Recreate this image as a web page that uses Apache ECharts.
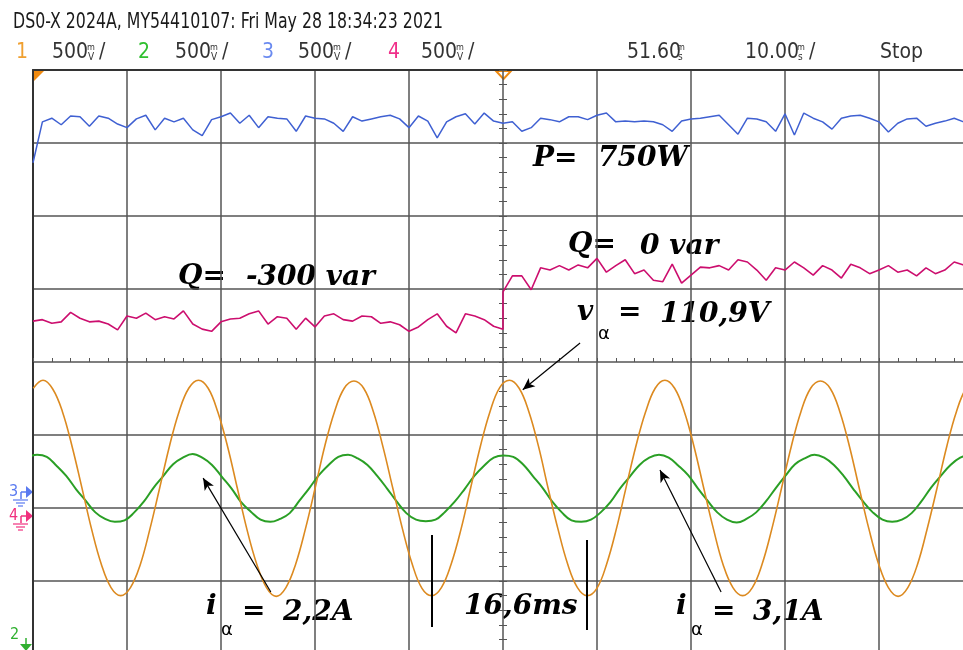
<!DOCTYPE html>
<html>
<head>
<meta charset="utf-8">
<script src="https://cdn.jsdelivr.net/npm/echarts@6/dist/echarts.min.js"></script>
<style>
  html, body { margin: 0; padding: 0; background: #fff; overflow: hidden; }
  /* the scope screen runs a little past the photo's right and bottom edge */
  #scope { width: 973px; height: 654px; }
</style>
</head>
<body>
<div id="scope"></div>
<script>
// time in ms relative to screen centre, amplitude in divisions from centre line
// ch3 (blue, P) and ch4 (magenta, Q) sampled every 1 ms from -50 ms
const blueP = [
  2.73, 3.29, 3.34, 3.25, 3.37, 3.36, 3.23, 3.37, 3.34, 3.26,
  3.21, 3.33, 3.38, 3.18, 3.34, 3.29, 3.34, 3.18, 3.10, 3.32,
  3.36, 3.41, 3.27, 3.38, 3.21, 3.36, 3.34, 3.33, 3.16, 3.37,
  3.34, 3.33, 3.27, 3.16, 3.36, 3.30, 3.33, 3.36, 3.38, 3.33,
  3.21, 3.37, 3.30, 3.07, 3.29, 3.36, 3.40, 3.26, 3.41, 3.30,
  3.27, 3.29, 3.16, 3.21, 3.34, 3.32, 3.29, 3.36, 3.36, 3.32,
  3.38, 3.41, 3.29, 3.30, 3.29, 3.30, 3.29, 3.25, 3.16, 3.30,
  3.33, 3.34, 3.36, 3.38, 3.25, 3.12, 3.34, 3.33, 3.29, 3.16,
  3.40, 3.11, 3.41, 3.34, 3.29, 3.19, 3.34, 3.37, 3.38, 3.34,
  3.29, 3.15, 3.27, 3.33, 3.34, 3.23, 3.27, 3.30, 3.34, 3.29, 3.31
];
// Q before the step (-50 .. 0 ms) and after it (0 .. 49 ms)
const pinkQBefore = [
  0.56, 0.58, 0.53, 0.55, 0.68, 0.60, 0.55, 0.56, 0.52, 0.44,
  0.63, 0.60, 0.67, 0.58, 0.62, 0.59, 0.70, 0.52, 0.45, 0.42,
  0.55, 0.59, 0.60, 0.66, 0.70, 0.52, 0.62, 0.60, 0.45, 0.60,
  0.48, 0.63, 0.66, 0.58, 0.56, 0.63, 0.62, 0.53, 0.55, 0.51,
  0.42, 0.48, 0.58, 0.66, 0.49, 0.40, 0.66, 0.63, 0.58, 0.49,
  0.45
];
const pinkQAfter = [
  0.96, 1.18, 1.18, 0.99, 1.29, 1.26, 1.32, 1.26, 1.33, 1.29,
  1.42, 1.23, 1.32, 1.40, 1.21, 1.26, 1.12, 1.10, 1.34, 1.08,
  1.19, 1.30, 1.29, 1.32, 1.26, 1.40, 1.37, 1.26, 1.12, 1.29,
  1.26, 1.37, 1.29, 1.19, 1.32, 1.26, 1.15, 1.34, 1.29, 1.21,
  1.26, 1.32, 1.23, 1.26, 1.18, 1.29, 1.21, 1.26, 1.37, 1.33
];
// ch1 voltage (orange), 16 samples per 16.54 ms period, first sample at -49.97 ms
const orangeV = [
  -0.36, -0.25, -0.37, -0.68, -1.16, -1.72, -2.29, -2.77, -3.09, -3.20, -3.09, -2.78, -2.29, -1.73, -1.16, -0.68,
  -0.36, -0.25, -0.36, -0.69, -1.16, -1.73, -2.30, -2.77, -3.09, -3.21, -3.09, -2.77, -2.29, -1.73, -1.15, -0.68,
  -0.36, -0.26, -0.36, -0.68, -1.17, -1.73, -2.29, -2.77, -3.10, -3.20, -3.09, -2.77, -2.30, -1.73, -1.16, -0.68,
  -0.35, -0.25, -0.36, -0.68, -1.16, -1.74, -2.29, -2.77, -3.09, -3.20, -3.10, -2.77, -2.29, -1.72, -1.16, -0.69,
  -0.36, -0.25, -0.36, -0.68, -1.16, -1.73, -2.29, -2.78, -3.09, -3.20, -3.09, -2.77, -2.29, -1.73, -1.16, -0.68,
  -0.36, -0.26, -0.36, -0.68, -1.16, -1.73, -2.29, -2.77, -3.09, -3.21, -3.09, -2.77, -2.28, -1.73, -1.16, -0.68,
  -0.36, -0.25
];
// ch2 current (green), same sample spacing, first sample at -50.60 ms
const greenI = [
  -1.31, -1.27, -1.30, -1.42, -1.56, -1.74, -1.90, -2.06, -2.15, -2.19, -2.17, -2.06, -1.91, -1.72, -1.56, -1.40,
  -1.31, -1.26, -1.31, -1.41, -1.57, -1.73, -1.92, -2.05, -2.16, -2.19, -2.15, -2.07, -1.90, -1.73, -1.55, -1.41,
  -1.30, -1.27, -1.32, -1.41, -1.56, -1.73, -1.91, -2.07, -2.16, -2.18, -2.16, -2.05, -1.91, -1.74, -1.56, -1.42,
  -1.31, -1.28, -1.30, -1.40, -1.56, -1.72, -1.91, -2.06, -2.17, -2.19, -2.16, -2.06, -1.92, -1.73, -1.57, -1.41,
  -1.31, -1.27, -1.31, -1.42, -1.55, -1.73, -1.90, -2.06, -2.16, -2.20, -2.15, -2.06, -1.91, -1.73, -1.56, -1.40,
  -1.32, -1.27, -1.31, -1.41, -1.56, -1.74, -1.91, -2.06, -2.16, -2.19, -2.16, -2.07, -1.91, -1.72, -1.56, -1.41,
  -1.31, -1.27, -1.30
];
// arrows and cursor marks: [fromTime, fromDiv, toTime, toDiv]
const arrows = [
  [8.2, 0.26, 2.1, -0.38],
  [-24.7, -3.15, -31.9, -1.59],
  [23.2, -3.15, 16.7, -1.48]
];
const cursors = [
  [-7.55, -2.37, -7.55, -3.63],
  [8.94, -2.44, 8.94, -3.67]
];

const sampleTimes = (start, step, n) => Array.from({ length: n }, (_, i) => +(start + i * step).toFixed(3));
const pairs = (ts, vs) => vs.map((v, i) => [ts[i], v]);

const sinStep = 16.54 / 16;
const blueData = pairs(sampleTimes(-50, 1, blueP.length), blueP);
const pinkData = pairs(sampleTimes(-50, 1, pinkQBefore.length), pinkQBefore)
  .concat(pairs(sampleTimes(0, 1, pinkQAfter.length), pinkQAfter));
const orangeData = pairs(sampleTimes(-49.97, sinStep, orangeV.length), orangeV);
const greenData = pairs(sampleTimes(-50.60, sinStep, greenI.length), greenI);

const chart = echarts.init(document.getElementById('scope'));

const gridColor = '#555';
const scopeFont = "'DejaVu Sans Condensed', 'Liberation Sans', sans-serif";
const mathFont = "'DejaVu Serif', serif";

function txt(text, x, y, font, fill, sx) {
  return { type: 'text', x: x, y: y, scaleX: sx || 1, silent: true,
    style: { text: text, font: font, fill: fill || '#000', align: 'left', verticalAlign: 'middle' } };
}
function seg(x1, y1, x2, y2, color, w) {
  return { type: 'line', silent: true, shape: { x1: x1, y1: y1, x2: x2, y2: y2 },
    style: { stroke: color, lineWidth: w || 1.2 } };
}
function tri(points, color) {
  return { type: 'polygon', silent: true, shape: { points: points }, style: { fill: color } };
}
// tiny stacked unit like the scope's mV / ms glyph
function unit(x, top, bottom) {
  return [txt(top, x, 48, '9px ' + scopeFont, '#333'), txt(bottom, x + 1, 57, '10px ' + scopeFont, '#333')];
}
function groundMark(label, y, color) {
  return [
    txt(label, 9, y, '16px ' + scopeFont, color),
    seg(21, y, 27, y, color, 1.5),
    tri([[26, y - 6], [33, y], [26, y + 6]], color),
    seg(21, y, 21, y + 7, color, 1.5),
    seg(13, y + 8, 28, y + 8, color, 1.2),
    seg(16, y + 11, 25, y + 11, color, 1.2),
    seg(18, y + 14, 23, y + 14, color, 1.2)
  ];
}

const hdr = '21px ' + scopeFont;
const big = 'italic bold 28px ' + mathFont;
const alpha = '18px DejaVu Sans';

const graphics = [
  txt('DS0-X 2024A, MY54410107: Fri May 28 18:34:23 2021', 13, 23, hdr, '#1a1a1a', 0.835),
  txt('1', 16, 53, hdr, '#f0a030'),
  txt('500', 52, 53, hdr, '#333'), ...unit(87, 'm', 'V'), txt('/', 99, 53, hdr, '#333'),
  txt('2', 138, 53, hdr, '#30c030'),
  txt('500', 175, 53, hdr, '#333'), ...unit(210, 'm', 'V'), txt('/', 222, 53, hdr, '#333'),
  txt('3', 262, 53, hdr, '#6a8af0'),
  txt('500', 298, 53, hdr, '#333'), ...unit(333, 'm', 'V'), txt('/', 345, 53, hdr, '#333'),
  txt('4', 388, 53, hdr, '#f0308a'),
  txt('500', 421, 53, hdr, '#333'), ...unit(456, 'm', 'V'), txt('/', 468, 53, hdr, '#333'),
  txt('51.60', 627, 53, hdr, '#333'), ...unit(677, 'm', 's'),
  txt('10.00', 745, 53, hdr, '#333'), ...unit(797, 'm', 's'), txt('/', 809, 53, hdr, '#333'),
  txt('Stop', 880, 53, hdr, '#333'),

  tri([[34, 71], [44, 71], [34, 81]], '#f08a10'),
  { type: 'polygon', silent: true, shape: { points: [[496, 71], [511, 71], [503.5, 79]] },
    style: { fill: 'none', stroke: '#f08a10', lineWidth: 2 } },

  ...groundMark('3', 492, '#5a7af0'),
  ...groundMark('4', 516, '#f0307e'),
  txt('2', 10, 635, '16px ' + scopeFont, '#30b030'),
  seg(26, 638, 26, 645, '#30b030', 1.5),
  tri([[20, 644], [32, 644], [26, 651]], '#30b030'),

  txt('P=', 533, 159, big), txt('750W', 598, 159, big),
  txt('Q=', 568, 245, big), txt('0 var', 640, 247, big),
  txt('Q=', 178, 277, big), txt('-300 var', 246, 278, big),
  txt('v', 577, 313, big), txt('α', 598, 334, alpha), txt('=', 618, 313, big), txt('110,9V', 660, 315, big),
  txt('i', 206, 607, big), txt('α', 221, 630, alpha), txt('=', 242, 612, big), txt('2,2A', 283, 613, big),
  txt('16,6ms', 464, 607, big),
  txt('i', 676, 607, big), txt('α', 691, 630, alpha), txt('=', 712, 612, big), txt('3,1A', 753, 613, big)
];

const tickAxisX = inside => ({
  type: 'value', min: -50, max: 50, interval: 10,
  axisLine: { show: false, onZero: true, onZeroAxisIndex: 0 },
  axisTick: { show: true, inside: inside, length: 4, lineStyle: { color: gridColor } },
  minorTick: { show: true, splitNumber: 5, length: 4, lineStyle: { color: gridColor } },
  axisLabel: { show: false }, splitLine: { show: false }
});
const tickAxisY = inside => ({
  type: 'value', min: -4, max: 4, interval: 1,
  axisLine: { show: false, onZero: true, onZeroAxisIndex: 0 },
  axisTick: { show: true, inside: inside, length: 4, lineStyle: { color: gridColor } },
  minorTick: { show: true, splitNumber: 5, length: 4, lineStyle: { color: gridColor } },
  axisLabel: { show: false }, splitLine: { show: false }
});

const trace = (name, data, color, width, smooth, extra) => Object.assign({
  name: name, type: 'line', data: data, xAxisIndex: 0, yAxisIndex: 0,
  showSymbol: false, smooth: smooth, clip: true, silent: true,
  lineStyle: { color: color, width: width }
}, extra || {});

const option = {
  animation: false,
  backgroundColor: '#fff',
  grid: { left: 33, top: 70, right: 0, bottom: 0 },
  xAxis: [
    {
      type: 'value', min: -50, max: 50, interval: 10, position: 'top',
      axisLine: { show: true, onZero: false, lineStyle: { color: '#333', width: 2 } },
      axisTick: { show: false }, axisLabel: { show: false },
      splitLine: { show: true, lineStyle: { color: gridColor, width: 1.5 } }
    },
    tickAxisX(true), tickAxisX(false)
  ],
  yAxis: [
    {
      type: 'value', min: -4, max: 4, interval: 1, position: 'left',
      axisLine: { show: true, onZero: false, lineStyle: { color: '#333', width: 2 } },
      axisTick: { show: false }, axisLabel: { show: false },
      splitLine: { show: true, lineStyle: { color: gridColor, width: 1.5 } }
    },
    tickAxisY(true), tickAxisY(false)
  ],
  series: [
    trace('P', blueData, '#3f60d2', 1.5, false),
    trace('Q', pinkData, '#cc0e6e', 1.6, false),
    trace('i', greenData, '#2a9f25', 2, 0.4),
    trace('v', orangeData, '#dc8a20', 1.6, 0.4, {
      markLine: {
        silent: true, animation: false,
        label: { show: false },
        symbol: ['none', 'none'],
        data: arrows.map(a => [
          { coord: [a[0], a[1]], symbol: 'none', lineStyle: { color: '#000', width: 1.2, type: 'solid' } },
          { coord: [a[2], a[3]], symbol: 'arrow', symbolSize: [8, 12] }
        ]).concat(cursors.map(c => [
          { coord: [c[0], c[1]], symbol: 'none', lineStyle: { color: '#000', width: 2, type: 'solid' } },
          { coord: [c[2], c[3]], symbol: 'none' }
        ]))
      }
    })
  ],
  graphic: graphics
};

chart.setOption(option);
</script>
</body>
</html>
